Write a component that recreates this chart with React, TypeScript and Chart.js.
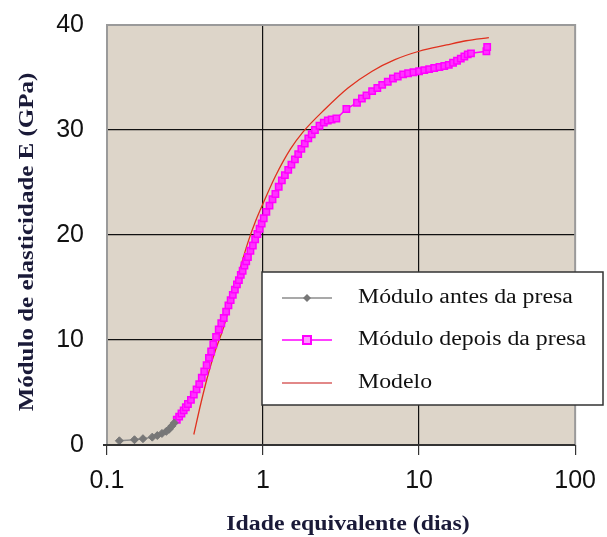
import React, { useEffect, useRef } from "react";
import { Chart, registerables } from "chart.js";

Chart.register(...registerables);

const xTicks = [0.1, 1, 10, 100];
const yTicks = [0, 10, 20, 30, 40];

const antesX = [0.12, 0.15, 0.17, 0.195, 0.21, 0.225, 0.24, 0.25, 0.26, 0.27];
const antesY = [0.4, 0.5, 0.6, 0.75, 0.9, 1.1, 1.3, 1.5, 1.8, 2.1];

const depoisX = [
  0.28, 0.29, 0.3, 0.31, 0.32, 0.33, 0.345, 0.36, 0.375, 0.39, 0.405, 0.42, 0.435, 0.45, 0.465, 0.48,
  0.5, 0.52, 0.54, 0.56, 0.58, 0.6, 0.62, 0.64, 0.66, 0.68, 0.7, 0.72, 0.74, 0.76, 0.78, 0.8, 0.83,
  0.86, 0.89, 0.92, 0.95, 0.98, 1.01, 1.05, 1.1, 1.15, 1.2, 1.26, 1.32, 1.38, 1.45, 1.52, 1.6, 1.68,
  1.76, 1.85, 1.95, 2.05, 2.15, 2.3, 2.45, 2.6, 2.75, 2.95, 3.42, 4.0, 4.3, 4.6, 5.0, 5.4, 5.8, 6.3,
  6.8, 7.3, 7.9, 8.5, 9.2, 10.0, 10.8, 11.6, 12.5, 13.5, 14.5, 15.5, 16.5, 17.5, 18.5, 19.5, 20.5,
  21.5, 27, 27.3,
];
const depoisY = [
  2.4, 2.7, 3.0, 3.3, 3.6, 3.9, 4.3, 4.8, 5.3, 5.8, 6.4, 7.0, 7.6, 8.3, 8.9, 9.6,
  10.3, 11.0, 11.6, 12.1, 12.7, 13.3, 13.8, 14.3, 14.8, 15.3, 15.7, 16.2, 16.6, 17.1, 17.5, 17.9, 18.5,
  19.0, 19.6, 20.1, 20.6, 21.1, 21.6, 22.2, 22.8, 23.4, 23.9, 24.6, 25.2, 25.7, 26.2, 26.7, 27.2, 27.7,
  28.2, 28.7, 29.2, 29.6, 30.0, 30.4, 30.7, 30.9, 31.0, 31.1, 32.0, 32.6, 33.0, 33.3, 33.7, 34.0, 34.3, 34.6,
  34.9, 35.1, 35.3, 35.4, 35.5, 35.6, 35.7, 35.8, 35.9, 36.0, 36.1, 36.2, 36.4, 36.6, 36.8, 37.0, 37.2,
  37.3, 37.5, 37.9,
];

const modeloX = [0.36, 0.4, 0.45, 0.5, 0.55, 0.6, 0.7, 0.8, 0.9, 1.0, 1.2, 1.5, 1.8, 2.5, 3.5, 5, 7, 10, 15, 20, 28];
const modeloY = [1.0, 4.0, 7.0, 9.2, 10.9, 12.8, 16.4, 19.3, 21.4, 23.0, 25.6, 28.2, 29.8, 32.0, 34.0, 35.6, 36.7, 37.5, 38.1, 38.5, 38.8];

const legendLabels = ["Módulo antes da presa", "Módulo depois da presa", "Modelo"];
const xTitle = "Idade equivalente (dias)";
const yTitle = "Módulo de elasticidade E (GPa)";

const pts = (xs: number[], ys: number[]) => xs.map((x, i) => ({ x, y: ys[i] }));

const STRETCH = 1.19;

function stretchedText(ctx: any, text: string, x: number, y: number, align: string) {
  ctx.save();
  ctx.translate(x, y);
  ctx.scale(STRETCH, 1);
  ctx.textAlign = align;
  ctx.fillText(text, 0, 0);
  ctx.restore();
}

const decorPlugin = {
  id: "decor",
  beforeDraw(chart: any) {
    const { ctx, chartArea: a } = chart;
    ctx.save();
    ctx.fillStyle = "#ddd5c9";
    ctx.fillRect(a.left, a.top, a.right - a.left, a.bottom - a.top);
    ctx.restore();
  },
  afterDatasetsDraw(chart: any) {
    const { ctx, chartArea: a } = chart;
    ctx.save();
    // frame
    ctx.strokeStyle = "#9a9a9a";
    ctx.lineWidth = 2;
    ctx.beginPath();
    ctx.moveTo(a.left, a.bottom);
    ctx.lineTo(a.left, a.top);
    ctx.lineTo(a.right, a.top);
    ctx.lineTo(a.right, a.bottom);
    ctx.stroke();
    ctx.strokeStyle = "#333";
    ctx.lineWidth = 2;
    ctx.beginPath();
    ctx.moveTo(a.left - 4, a.bottom);
    ctx.lineTo(a.right, a.bottom);
    ctx.stroke();

    // titles
    ctx.fillStyle = "#1a1a38";
    ctx.textBaseline = "middle";
    ctx.font = "bold 20px 'Liberation Serif'";
    stretchedText(ctx, xTitle, 348, 525, "center");
    ctx.save();
    ctx.translate(28, 242);
    ctx.rotate(-Math.PI / 2);
    ctx.font = "bold 21px 'Liberation Serif'";
    stretchedText(ctx, yTitle, 0, 0, "center");
    ctx.restore();
    ctx.restore();

    // legend
    ctx.save();
    const L = 262, T = 272, R = 603, B = 405;
    ctx.fillStyle = "#ffffff";
    ctx.fillRect(L, T, R - L, B - T);
    ctx.strokeStyle = "#333";
    ctx.lineWidth = 1.5;
    ctx.strokeRect(L, T, R - L, B - T);
    const rows = [298, 340, 383];
    const ds = chart.data.datasets;
    rows.forEach((yy, i) => {
      const d = ds[i];
      ctx.strokeStyle = i === 2 ? "#d86060" : d.borderColor;
      ctx.lineWidth = 1.5;
      ctx.beginPath();
      ctx.moveTo(282, yy);
      ctx.lineTo(332, yy);
      ctx.stroke();
      if (i === 0) {
        ctx.fillStyle = "#777";
        ctx.beginPath();
        ctx.moveTo(307, yy - 4);
        ctx.lineTo(311, yy);
        ctx.lineTo(307, yy + 4);
        ctx.lineTo(303, yy);
        ctx.closePath();
        ctx.fill();
      } else if (i === 1) {
        ctx.fillStyle = "#ff99ff";
        ctx.fillRect(303, yy - 4, 8, 8);
        ctx.strokeStyle = "#ff00ff";
        ctx.lineWidth = 2;
        ctx.strokeRect(303, yy - 4, 8, 8);
      }
      ctx.fillStyle = "#111";
      ctx.font = "20px 'Liberation Serif'";
      ctx.textBaseline = "middle";
      stretchedText(ctx, legendLabels[i], 358, yy, "left");
    });
    ctx.restore();
  },
};

export default function App() {
  const ref = useRef<HTMLCanvasElement | null>(null);
  useEffect(() => {
    if (!ref.current) return;
    const chart = new Chart(ref.current, {
      type: "scatter",
      data: {
        datasets: [
          {
            label: legendLabels[0],
            data: pts(antesX, antesY),
            showLine: true,
            borderColor: "#8c8c8c",
            borderWidth: 1.5,
            pointStyle: "rectRot",
            pointRadius: 4,
            pointBackgroundColor: "#777",
            pointBorderColor: "#777",
            pointBorderWidth: 1,
          },
          {
            label: legendLabels[1],
            data: pts(depoisX, depoisY),
            showLine: true,
            borderColor: "#ff00ff",
            borderWidth: 1.5,
            pointStyle: "rect",
            pointRadius: 4.5,
            pointBackgroundColor: "#ff33ff",
            pointBorderColor: "#ff00ff",
            pointBorderWidth: 1.5,
          },
          {
            label: legendLabels[2],
            data: pts(modeloX, modeloY),
            showLine: true,
            borderColor: "#e0301e",
            borderWidth: 1.3,
            pointRadius: 0,
            cubicInterpolationMode: "monotone",
          },
        ],
      },
      options: {
        responsive: false,
        animation: false,
        layout: { padding: { top: 25, right: 31, left: 0, bottom: 0 } },
        plugins: { legend: { display: false }, tooltip: { enabled: false } },
        scales: {
          x: {
            type: "logarithmic",
            min: 0.1,
            max: 100,
            afterBuildTicks: (s: any) => {
              s.ticks = xTicks.map((v) => ({ value: v }));
            },
            afterFit: (s: any) => {
              s.height = 92;
            },
            ticks: {
              callback: (v: any) => String(v),
              font: { family: "'Liberation Sans'", size: 25 },
              color: "#111",
              padding: 11,
              maxRotation: 0,
              autoSkip: false,
            },
            grid: {
              color: (c: any) => (c.tick && (c.tick.value === 0.1 || c.tick.value === 100) ? "rgba(0,0,0,0)" : "#111"),
              tickColor: "#333",
              tickLength: 10,
              lineWidth: 1.2,
            },
            border: { display: false },
          },
          y: {
            min: 0,
            max: 40,
            afterBuildTicks: (s: any) => {
              s.ticks = yTicks.map((v) => ({ value: v }));
            },
            afterFit: (s: any) => {
              s.width = 107;
              s.paddingTop = 0;
              s.paddingBottom = 0;
            },
            ticks: {
              font: { family: "'Liberation Sans'", size: 25 },
              color: "#111",
              padding: 18,
            },
            grid: {
              color: (c: any) => (c.tick && (c.tick.value === 0 || c.tick.value === 40) ? "rgba(0,0,0,0)" : "#111"),
              tickColor: "rgba(0,0,0,0)",
              tickLength: 5,
              lineWidth: 1.2,
            },
            border: { display: false },
          },
        },
      },
      plugins: [decorPlugin],
    });
    return () => chart.destroy();
  }, []);
  return (
    <div style={{ position: "fixed", left: 0, top: 0, width: 607, height: 537, background: "#fff" }}>
      <canvas ref={ref} width={607} height={537} />
    </div>
  );
}
